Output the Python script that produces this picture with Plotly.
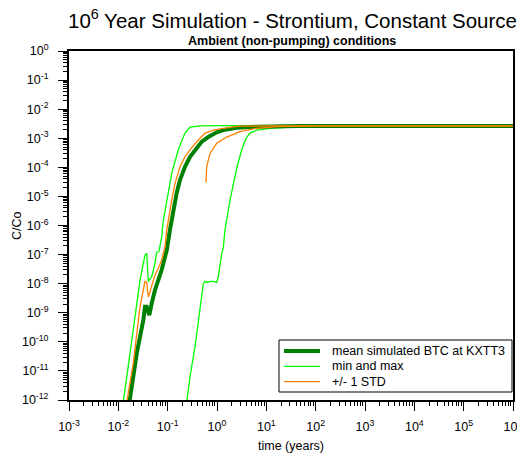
import plotly.graph_objects as go

# ---- data ----
mean_t = [0.0168, 0.0236, 0.0321, 0.0347, 0.0376, 0.0399, 0.0425, 0.0474, 0.0553, 0.0757,
          0.0957, 0.111, 0.130, 0.152, 0.178, 0.224, 0.284, 0.358, 0.490, 0.667, 0.986, 1.34,
          2.51, 6.38, 48, 1e6]
mean_c = [8.5e-13, 4.0e-11, 5.6e-10, 1.6e-9, 1.6e-9, 1.2e-9, 8.3e-10, 2.1e-9, 6.0e-9, 3.0e-8,
          1.4e-7, 6.9e-7, 3.4e-6, 1.3e-5, 3.7e-5, 1.05e-4, 2.3e-4, 4.0e-4, 7.6e-4, 1.1e-3, 1.6e-3,
          1.9e-3, 2.3e-3, 2.5e-3, 2.65e-3, 2.65e-3]

std_hi_t = [0.0148, 0.0201, 0.0275, 0.0321, 0.0347, 0.0376, 0.0405, 0.0439, 0.0474, 0.0553, 0.0646,
            0.0757, 0.0883, 0.0957, 0.121, 0.141, 0.178, 0.224, 0.284, 0.388, 0.571, 0.842, 1.34,
            2.92, 11.7, 1e6]
std_hi_c = [8.5e-13, 1.9e-11, 1.6e-9, 6.0e-9, 1.2e-8, 1.1e-8, 3.5e-9, 5.3e-9, 7.8e-9, 2.0e-8, 3.4e-8,
            6.5e-8, 1.9e-7, 6.9e-7, 7.6e-6, 2.8e-5, 1.05e-4, 2.3e-4, 4.0e-4, 7.6e-4, 1.5e-3, 1.9e-3,
            2.2e-3, 2.6e-3, 2.65e-3, 2.65e-3]

std_lo_t = [0.598, 0.618, 0.721, 0.986, 1.57, 2.92, 6.38, 16.2, 122, 1e6]
std_lo_c = [3.0e-5, 1.05e-4, 3.0e-4, 6.7e-4, 1.1e-3, 1.7e-3, 2.2e-3, 2.5e-3, 2.65e-3, 2.65e-3]

max_t = [0.0126, 0.0148, 0.0201, 0.0275, 0.0347, 0.0376, 0.0405, 0.0474, 0.0553, 0.060, 0.0667,
         0.0757, 0.0816, 0.0957, 0.121, 0.164, 0.224, 0.284, 0.453, 1.84, 1e6]
max_c = [8.5e-13, 6.3e-12, 2.6e-10, 1.3e-8, 9.6e-8, 1.1e-7, 1.2e-8, 1.7e-8, 5.0e-8, 1.2e-7, 1.3e-7,
         4.1e-7, 1.5e-6, 7.6e-6, 6.2e-5, 4.0e-4, 1.5e-3, 2.4e-3, 2.65e-3, 2.7e-3, 2.7e-3]

min_t = [0.243, 0.284, 0.358, 0.453, 0.528, 0.571, 0.642, 0.721, 0.842, 0.986, 1.06, 1.25, 1.34,
         1.45, 1.84, 2.51, 3.17, 3.87, 4.67, 6.38, 11.9, 30, 310, 1e6]
min_c = [8.5e-13, 6.3e-12, 6.8e-11, 1.2e-9, 1.0e-8, 1.2e-8, 1.1e-8, 1.2e-8, 1.2e-8, 1.1e-8, 1.7e-8,
         1.1e-7, 1.7e-7, 6.9e-7, 7.6e-6, 9.3e-5, 4.0e-4, 1.0e-3, 1.5e-3, 1.9e-3, 2.2e-3, 2.4e-3, 2.6e-3, 2.65e-3]

x_exps = list(range(-3, 7))
y_exps = list(range(-12, 1))
x_ticktext = ["10<sup>%d</sup>" % e for e in x_exps]
y_ticktext = ["10<sup>%d</sup>" % e for e in y_exps]

legend_labels = ["mean simulated BTC at KXTT3", "min and max", "+/- 1 STD"]

FONT = "Liberation Sans, Arial, sans-serif"
LIME = "#00ff00"
DARK = "#008000"
ORANGE = "#ff8000"
legend_colors = [DARK, LIME, ORANGE]
legend_widths = [4, 1.3, 1.3]

# the page body adds an 8px margin, so all target screen positions are shifted by it
OFF = 8
W, H = 525, 456
L, R, T, B = 69 - OFF, 513 - OFF, 51 - OFF, 400 - OFF


def px_x(px):
    return (px - OFF - L) / (R - L)


def px_y(py):
    return (B - (py - OFF)) / (B - T)


fig = go.Figure()
fig.add_trace(go.Scatter(x=max_t, y=max_c, mode="lines", line=dict(color=LIME, width=1.3),
                         name="min and max"))
fig.add_trace(go.Scatter(x=min_t, y=min_c, mode="lines", line=dict(color=LIME, width=1.3),
                         name="min and max"))
fig.add_trace(go.Scatter(x=mean_t, y=mean_c, mode="lines", line=dict(color=DARK, width=4),
                         name="mean simulated BTC at KXTT3"))
fig.add_trace(go.Scatter(x=std_hi_t, y=std_hi_c, mode="lines", line=dict(color=ORANGE, width=1.3),
                         name="+/- 1 STD"))
fig.add_trace(go.Scatter(x=std_lo_t, y=std_lo_c, mode="lines", line=dict(color=ORANGE, width=1.3),
                         name="+/- 1 STD"))

x_minor = [m * 10 ** e for e in range(-3, 6) for m in range(2, 10)]
y_minor = [m * 10 ** e for e in range(-12, 0) for m in range(2, 10)]

shapes = [dict(type="rect", xref="paper", yref="paper",
               x0=px_x(279), x1=px_x(512), y0=px_y(392), y1=px_y(340),
               line=dict(color="black", width=1), fillcolor="white", layer="above")]
annotations = [
    dict(text="10<sup>6</sup> Year Simulation - Strontium, Constant Source",
         xref="paper", yref="paper", x=px_x(292), y=px_y(18.5), xanchor="center", yanchor="middle",
         showarrow=False, font=dict(size=20.5, family=FONT)),
    dict(text="<b>Ambient (non-pumping) conditions</b>", xref="paper", yref="paper",
         x=px_x(292), y=px_y(41), xanchor="center", yanchor="middle",
         showarrow=False, font=dict(size=12.5, family=FONT)),
    dict(text="time (years)", xref="paper", yref="paper",
         x=px_x(291), y=px_y(446), xanchor="center", yanchor="middle",
         showarrow=False, font=dict(size=12.5, family=FONT)),
    dict(text="C/Co", xref="paper", yref="paper", textangle=-90,
         x=px_x(17), y=px_y(226), xanchor="center", yanchor="middle",
         showarrow=False, font=dict(size=12.5, family=FONT)),
]
for i, (lab, col, lw) in enumerate(zip(legend_labels, legend_colors, legend_widths)):
    yy = 351 + 15.3 * i
    shapes.append(dict(type="line", xref="paper", yref="paper",
                       x0=px_x(284), x1=px_x(320), y0=px_y(yy), y1=px_y(yy),
                       line=dict(color=col, width=lw), layer="above"))
    annotations.append(dict(text=lab, xref="paper", yref="paper", x=px_x(330), y=px_y(yy),
                            xanchor="left", yanchor="middle", showarrow=False,
                            font=dict(size=12.5, family=FONT)))

fig.update_layout(
    width=W, height=H,
    margin=dict(l=L, r=W - R, t=T, b=H - B, autoexpand=False),
    paper_bgcolor="white", plot_bgcolor="white",
    font=dict(family=FONT, size=12, color="black"),
    showlegend=False,
    shapes=shapes,
    annotations=annotations,
)

fig.update_xaxes(
    type="log", range=[-3, 6], tickmode="array", automargin=False,
    tickvals=[10.0 ** e for e in x_exps], ticktext=x_ticktext,
    ticks="outside", ticklen=9, tickwidth=1, tickcolor="black",
    showline=True, linewidth=2, linecolor="black", mirror=True,
    showgrid=False, zeroline=False, ticklabelstandoff=5,
    minor=dict(tickmode="array", tickvals=x_minor, ticks="outside", ticklen=4,
               tickwidth=1, tickcolor="black", showgrid=False),
    tickfont=dict(size=12.5, family=FONT),
)
fig.update_yaxes(
    type="log", range=[-12, 0], tickmode="array", automargin=False,
    tickvals=[10.0 ** e for e in y_exps], ticktext=y_ticktext,
    ticks="outside", ticklen=9, tickwidth=1, tickcolor="black",
    showline=True, linewidth=2, linecolor="black", mirror=True,
    showgrid=False, zeroline=False, ticklabelstandoff=7,
    minor=dict(tickmode="array", tickvals=y_minor, ticks="outside", ticklen=4,
               tickwidth=1, tickcolor="black", showgrid=False),
    tickfont=dict(size=12.5, family=FONT),
)

fig.write_html("out.html")
